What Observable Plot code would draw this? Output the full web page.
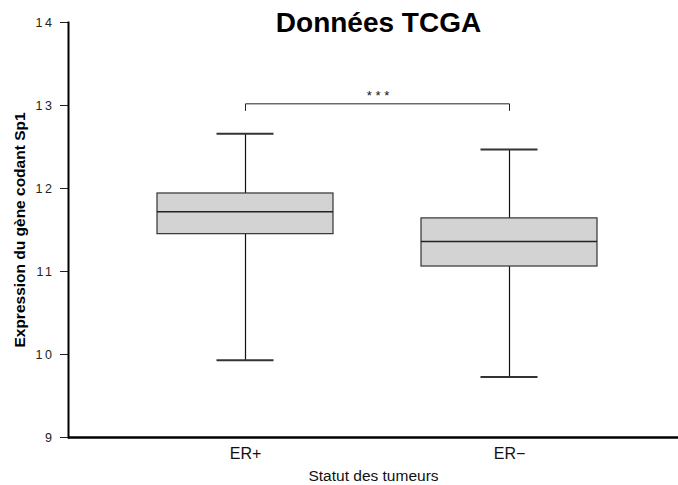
<!DOCTYPE html>
<html>
<head>
<meta charset="utf-8">
<script src="https://cdn.jsdelivr.net/npm/d3@7"></script>
<script src="https://cdn.jsdelivr.net/npm/@observablehq/plot@0.6"></script>
<style>
  html, body { margin: 0; padding: 0; background: #fff; }
  svg { font-family: "Liberation Sans", Arial, sans-serif; }
</style>
</head>
<body>
<div id="chart"></div>
<script>
const categories = ["ER+", "ER\u2212"];
const whiskerLow = [9.93, 9.73];
const q1 = [11.45, 11.06];
const median = [11.72, 11.36];
const q3 = [11.94, 11.64];
const whiskerHigh = [12.66, 12.47];
const yTicks = [9, 10, 11, 12, 13, 14];
const bracketTop = 13.02;
const bracketFoot = 12.94;
const significance = "***";
const title = "Données TCGA";
const xLabel = "Statut des tumeurs";
const yLabel = "Expression du gène codant Sp1";

const boxes = categories.map((c, i) => ({
  cat: c, lo: whiskerLow[i], q1: q1[i], med: median[i], q3: q3[i], hi: whiskerHigh[i]
}));
const bracket = [
  {cat: categories[0], y: bracketFoot},
  {cat: categories[0], y: bracketTop},
  {cat: categories[1], y: bracketTop},
  {cat: categories[1], y: bracketFoot}
];

const chart = Plot.plot({
  width: 678,
  height: 485,
  marginLeft: 68,
  marginRight: 0,
  marginTop: 22,
  marginBottom: 48,
  style: {fontFamily: "'Liberation Sans', Arial, sans-serif", background: "white"},
  x: {type: "band", domain: categories, range: [156, 598], paddingInner: 0.332, paddingOuter: 0},
  y: {domain: [9, 14], ticks: yTicks},
  marks: [
    Plot.axisY({ticks: yTicks, tickSize: 8, tickPadding: 6, fontSize: 12.5, label: null, tickFormat: d => String(d), color: "#222"}),
    Plot.axisX({tickSize: 0, tickPadding: 10, fontSize: 16, label: null, color: "#111"}),
    Plot.frame({anchor: "left", strokeWidth: 2, stroke: "#000"}),
    Plot.ruleY([9], {stroke: "#000", strokeWidth: 2.5}),
    Plot.ruleX(boxes, {x: "cat", y1: "lo", y2: "q1", stroke: "#111", strokeWidth: 1.2}),
    Plot.ruleX(boxes, {x: "cat", y1: "q3", y2: "hi", stroke: "#111", strokeWidth: 1.2}),
    Plot.tickY(boxes, {x: "cat", y: "lo", insetLeft: 59.5, insetRight: 59.5, stroke: "#333", strokeWidth: 2}),
    Plot.tickY(boxes, {x: "cat", y: "hi", insetLeft: 59.5, insetRight: 59.5, stroke: "#333", strokeWidth: 2}),
    Plot.barY(boxes, {x: "cat", y1: "q1", y2: "q3", fill: "#d3d3d3", stroke: "#333", strokeWidth: 1.2}),
    Plot.tickY(boxes, {x: "cat", y: "med", stroke: "#222", strokeWidth: 1.5}),
    Plot.line(bracket, {x: "cat", y: "y", stroke: "#222", strokeWidth: 1}),
    Plot.text([significance], {x: () => categories[0], y: () => bracketTop, text: d => d.split("").join(" "), dx: 132.5, dy: -8, fontSize: 13, fill: "#111"}),
    Plot.text([title], {frameAnchor: "top", lineAnchor: "middle", dx: 5, dy: 1, fontSize: 28, fontWeight: "bold", fill: "#000"}),
    Plot.text([xLabel], {frameAnchor: "bottom", dy: 43, fontSize: 15.5, fill: "#111"}),
    Plot.text([yLabel], {frameAnchor: "left", textAnchor: "middle", dx: -48, rotate: -90, fontSize: 15.5, fontWeight: "bold", fill: "#000"})
  ]
});
d3.select(chart).selectAll("[aria-label='y-axis tick label'] text").style("letter-spacing", "2.5px");
document.getElementById("chart").appendChild(chart);
</script>
</body>
</html>
